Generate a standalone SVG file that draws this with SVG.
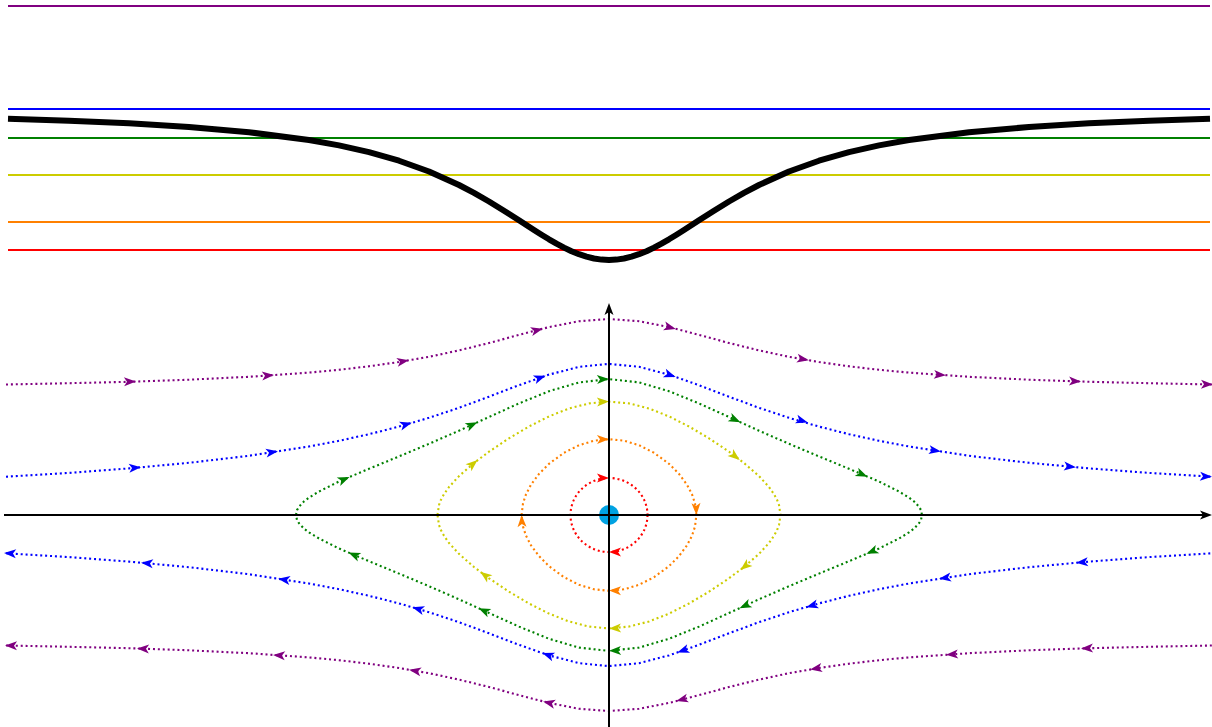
<svg xmlns="http://www.w3.org/2000/svg" xmlns:xlink="http://www.w3.org/1999/xlink" width="1212" height="727" viewBox="0 0 1212 727">
<style>
.lvl{fill:none;stroke-width:2}
.orb{fill:none;stroke-width:2.1;stroke-dasharray:2 2.9;stroke-linejoin:round}
.pur{stroke:#800080}.blu{stroke:#0000ff}.grn{stroke:#008000}.yel{stroke:#cccc00}.org{stroke:#ff8000}.red{stroke:#ff0000}
.axis{stroke:#000;stroke-width:2;fill:none}
</style>
<defs>
<path id="ah" d="M6,0 L-6,-4.5 L-3,0 L-6,4.5 Z"/>
<marker id="axarr" viewBox="-7 -5 13 10" markerWidth="13" markerHeight="10" refX="2" refY="0" orient="auto" markerUnits="userSpaceOnUse"><path d="M6,0 L-6,-4.5 L-3,0 L-6,4.5 Z" fill="#000"/></marker>
</defs>
<rect width="1212" height="727" fill="#fff"/>
<g id="energy-levels">
<line class="lvl pur" x1="8" y1="6" x2="1210" y2="6"/>
<line class="lvl blu" x1="8" y1="109" x2="1210" y2="109"/>
<line class="lvl grn" x1="8" y1="138" x2="1210" y2="138"/>
<line class="lvl yel" x1="8" y1="175" x2="1210" y2="175"/>
<line class="lvl org" x1="8" y1="222" x2="1210" y2="222"/>
<line class="lvl red" x1="8" y1="250" x2="1210" y2="250"/>
</g>
<g id="potential">
<polyline fill="none" stroke="#000" stroke-width="6" stroke-linejoin="round" points="8,118.8 69,120.74 129,123.35 189,127 249,132.2 309,140 339,145.4 369,152.1 399,160.7 429,171.5 459,185 474,192.9 489,201.5 504,210.7 519,220.3 534,230 541.5,234.7 549,239.3 556.5,243.6 564,247.6 571.5,251.2 579,254.2 586.5,256.7 594,258.5 601.5,259.6 609,260 616.5,259.6 624,258.5 631.5,256.7 639,254.2 646.5,251.2 654,247.6 661.5,243.6 669,239.3 676.5,234.7 684,230 699,220.3 714,210.7 729,201.5 744,192.9 759,185 789,171.5 819,160.7 849,152.1 879,145.4 909,140 969,132.2 1029,127 1089,123.35 1149,120.74 1210,118.8"/>
</g>
<g id="orbits">
<polyline class="orb pur" points="6,384.5 69,383.2 129,381.8 189,379.7 249,376.8 309,372.6 339,369.8 369,366.3 399,362 429,356.8 459,350.4 489,343 519,334.9 549,327.1 579,321.2 609,319 639,321.2 669,327.1 699,334.9 729,343 759,350.4 789,356.8 819,362 849,366.3 879,369.8 909,372.6 969,376.8 1029,379.7 1089,381.8 1149,383.2 1212,384.5"/>
<polyline class="orb pur" points="6,645.5 69,646.8 129,648.2 189,650.3 249,653.2 309,657.4 339,660.2 369,663.7 399,668 429,673.2 459,679.6 489,687 519,695.1 549,702.9 579,708.8 609,711 639,708.8 669,702.9 699,695.1 729,687 759,679.6 789,673.2 819,668 849,663.7 879,660.2 909,657.4 969,653.2 1029,650.3 1089,648.2 1149,646.8 1212,645.5"/>
<polyline class="orb blu" points="6,476.7 69,472.9 129,468.4 189,462.8 249,455.8 309,446.5 339,440.8 369,434.2 399,426.6 429,417.8 459,407.8 489,396.7 519,385.2 549,374.6 579,366.8 609,363.9 639,366.8 669,374.6 699,385.2 729,396.7 759,407.8 789,417.8 819,426.6 849,434.2 879,440.8 909,446.5 969,455.8 1029,462.8 1089,468.4 1149,472.9 1212,476.7"/>
<polyline class="orb blu" points="6,553.3 69,557.1 129,561.6 189,567.2 249,574.2 309,583.5 339,589.2 369,595.8 399,603.4 429,612.2 459,622.2 489,633.3 519,644.8 549,655.4 579,663.2 609,666.1 639,663.2 669,655.4 699,644.8 729,633.3 759,622.2 789,612.2 819,603.4 849,595.8 879,589.2 909,583.5 969,574.2 1029,567.2 1089,561.6 1149,557.1 1212,553.3"/>
<polygon class="orb grn" points="296,515 297,510.1 299,506.7 304,501.4 309,497.6 319,491.5 339,481.5 369,468.8 399,456.4 429,443.8 459,430.7 489,417 519,403.4 549,391.2 579,382.4 609,379.1 639,382.4 669,391.2 699,403.4 729,417 759,430.7 789,443.8 819,456.4 849,468.8 879,481.5 899,491.5 909,497.6 914,501.4 919,506.7 921,510.1 922,515 921,519.9 919,523.3 914,528.6 909,532.4 899,538.5 879,548.5 849,561.2 819,573.6 789,586.2 759,599.3 729,613 699,626.6 669,638.8 639,647.6 609,650.9 579,647.6 549,638.8 519,626.6 489,613 459,599.3 429,586.2 399,573.6 369,561.2 339,548.5 319,538.5 309,532.4 304,528.6 299,523.3 297,519.9"/>
<polygon class="orb yel" points="437.5,515 439,505 441,499.7 444,494.2 449,487 459,476.1 474,463 489,451.7 509,438.3 529,426.5 549,416.4 569,408.5 589,403.4 609,401.6 629,403.4 649,408.5 669,416.4 689,426.5 709,438.3 729,451.7 744,463 759,476.1 769,487 774,494.2 777,499.7 779,505 780.5,515 779,525 777,530.3 774,535.8 769,543 759,553.9 744,567 729,578.3 709,591.7 689,603.5 669,613.6 649,621.5 629,626.6 609,628.4 589,626.6 569,621.5 549,613.6 529,603.5 509,591.7 489,578.3 474,567 459,553.9 449,543 444,535.8 441,530.3 439,525"/>
<polygon class="orb org" points="521.6,515 523,503.4 526,494.3 531,484.7 539,473.9 549,463.8 564,452.8 579,445.2 594,440.7 609,439.2 624,440.7 639,445.2 654,452.8 669,463.8 679,473.9 687,484.7 692,494.3 695,503.4 696.4,515 695,526.6 692,535.7 687,545.3 679,556.1 669,566.2 654,577.2 639,584.8 624,589.3 609,590.8 594,589.3 579,584.8 564,577.2 549,566.2 539,556.1 531,545.3 526,535.7 523,526.6"/>
<ellipse class="orb red" cx="609" cy="515" rx="38.5" ry="37"/>
</g>
<g id="arrows">
<g fill="#800080">
<use href="#ah" transform="translate(130,381.6) rotate(-2)"/>
<use href="#ah" transform="translate(268,375.5) rotate(-4)"/>
<use href="#ah" transform="translate(403,361.3) rotate(-10)"/>
<use href="#ah" transform="translate(537,330.2) rotate(-14.6)"/>
<use href="#ah" transform="translate(670,327.4) rotate(14.6)"/>
<use href="#ah" transform="translate(803,359.2) rotate(10)"/>
<use href="#ah" transform="translate(940,374.8) rotate(4)"/>
<use href="#ah" transform="translate(1075,381.3) rotate(2)"/>
<use href="#ah" transform="translate(1207,384.4) rotate(1)"/>
<use href="#ah" transform="translate(11,645.6) rotate(181)"/>
<use href="#ah" transform="translate(143,648.7) rotate(182)"/>
<use href="#ah" transform="translate(279,655.3) rotate(184)"/>
<use href="#ah" transform="translate(415,670.8) rotate(190)"/>
<use href="#ah" transform="translate(549,702.9) rotate(193)"/>
<use href="#ah" transform="translate(682,699.5) rotate(165.4)"/>
<use href="#ah" transform="translate(816,668.5) rotate(170)"/>
<use href="#ah" transform="translate(952,654.4) rotate(176)"/>
<use href="#ah" transform="translate(1087,648.3) rotate(178)"/>
</g>
<g fill="#0000ff">
<use href="#ah" transform="translate(135,467.8) rotate(-5.3)"/>
<use href="#ah" transform="translate(272,452.2) rotate(-8.8)"/>
<use href="#ah" transform="translate(406,424.5) rotate(-16.3)"/>
<use href="#ah" transform="translate(540,377.8) rotate(-19.5)"/>
<use href="#ah" transform="translate(670,375) rotate(19.5)"/>
<use href="#ah" transform="translate(802,420.7) rotate(16.3)"/>
<use href="#ah" transform="translate(935,450.5) rotate(8.8)"/>
<use href="#ah" transform="translate(1070,466.6) rotate(5.3)"/>
<use href="#ah" transform="translate(1206,476.5) rotate(3.5)"/>
<use href="#ah" transform="translate(10,553.3) rotate(183.5)"/>
<use href="#ah" transform="translate(147,563.3) rotate(185.3)"/>
<use href="#ah" transform="translate(284,579.6) rotate(188.8)"/>
<use href="#ah" transform="translate(418,609) rotate(196.3)"/>
<use href="#ah" transform="translate(548,655.1) rotate(199.5)"/>
<use href="#ah" transform="translate(683,650.5) rotate(160.5)"/>
<use href="#ah" transform="translate(812,605.6) rotate(163.7)"/>
<use href="#ah" transform="translate(945,577.9) rotate(171.2)"/>
<use href="#ah" transform="translate(1082,562.3) rotate(174.7)"/>
</g>
<g fill="#008000">
<use href="#ah" transform="translate(344,479.4) rotate(-22.9)"/>
<use href="#ah" transform="translate(472,424.8) rotate(-24.6)"/>
<use href="#ah" transform="translate(603,379.3) rotate(-2)"/>
<use href="#ah" transform="translate(735,419.7) rotate(24.6)"/>
<use href="#ah" transform="translate(862,474.3) rotate(22.9)"/>
<use href="#ah" transform="translate(354,554.9) rotate(202.9)"/>
<use href="#ah" transform="translate(484,610.7) rotate(204.6)"/>
<use href="#ah" transform="translate(615,650.6) rotate(178)"/>
<use href="#ah" transform="translate(745,605.7) rotate(155.4)"/>
<use href="#ah" transform="translate(872,551.5) rotate(157.1)"/>
</g>
<g fill="#cccc00">
<use href="#ah" transform="translate(473,463.9) rotate(-40.4)"/>
<use href="#ah" transform="translate(603,401.8) rotate(-2)"/>
<use href="#ah" transform="translate(735,456.2) rotate(39)"/>
<use href="#ah" transform="translate(485,575.3) rotate(217)"/>
<use href="#ah" transform="translate(615,628.2) rotate(178)"/>
<use href="#ah" transform="translate(745,566.2) rotate(141)"/>
</g>
<g fill="#ff8000">
<use href="#ah" transform="translate(603,439.3) rotate(-1)"/>
<use href="#ah" transform="translate(696.2,509) rotate(88)"/>
<use href="#ah" transform="translate(615,590.7) rotate(181)"/>
<use href="#ah" transform="translate(521.8,521) rotate(268)"/>
</g>
<g fill="#ff0000">
<use href="#ah" transform="translate(603,478.1) rotate(0)"/>
<use href="#ah" transform="translate(615,552) rotate(180)"/>
</g>
</g>
<g id="equilibrium">
<circle cx="609" cy="515" r="10" fill="#00a2e2"/>
</g>
<g id="axes">
<line class="axis" x1="4" y1="515" x2="1208" y2="515" marker-end="url(#axarr)"/>
<line class="axis" x1="609" y1="727" x2="609" y2="307" marker-end="url(#axarr)"/>
</g>
</svg>
